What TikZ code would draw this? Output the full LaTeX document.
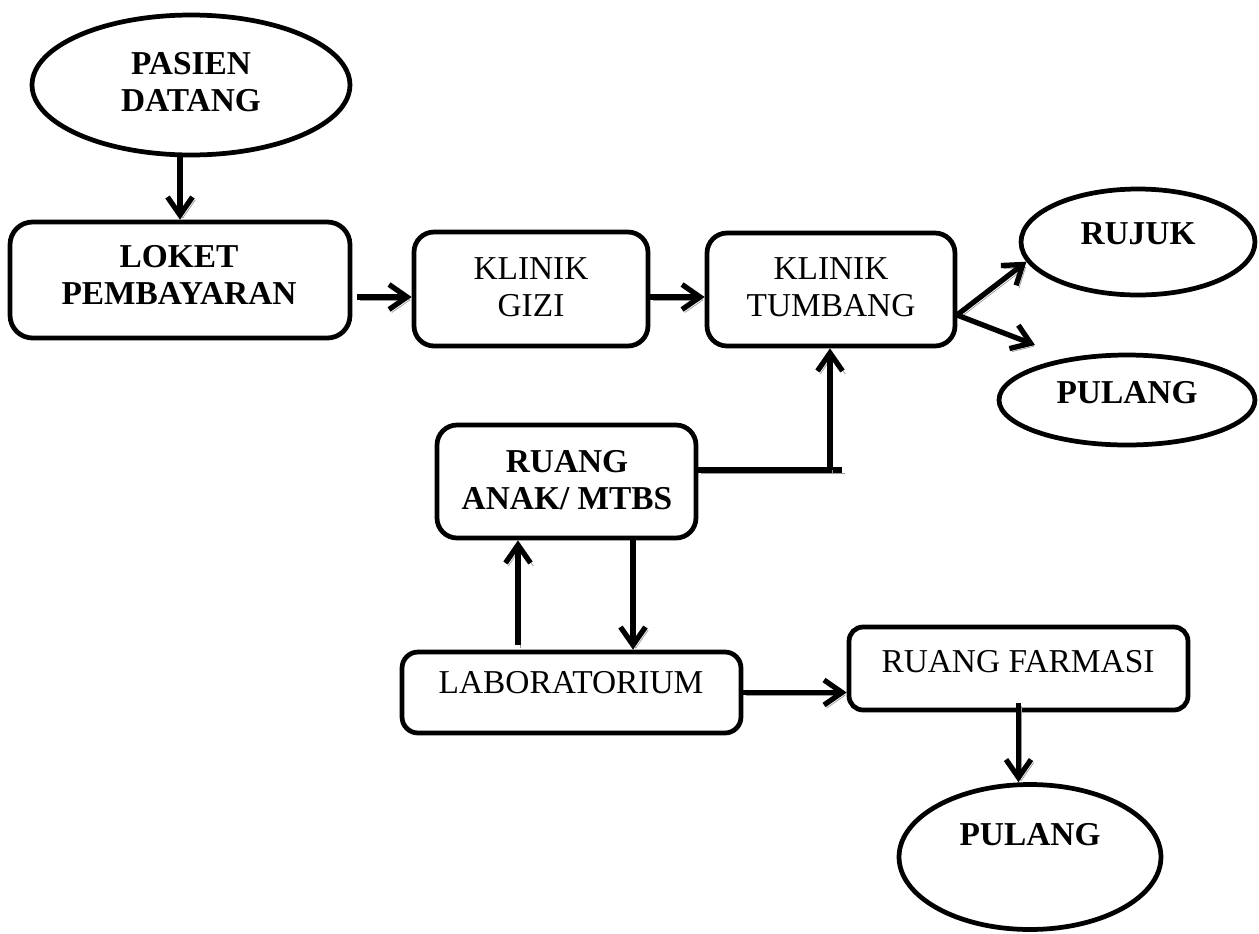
\documentclass[tikz,border=0pt]{standalone}
\usepackage{fontspec}
\setmainfont{Liberation Serif}
\usetikzlibrary{arrows.meta,shapes.geometric}
\begin{document}
\begin{tikzpicture}[x=0.02cm,y=-0.02cm,
  box/.style={draw,line width=2.7pt,rounded corners=0.4cm,inner sep=0pt},
  oval/.style={draw,ellipse,line width=2.7pt,inner sep=0pt},
  txt/.style={font=\fontsize{19}{21}\selectfont,align=center,inner sep=0pt},
  txtb/.style={font=\fontsize{19}{21}\selectfont\bfseries,align=center,inner sep=0pt},
  shade/.style={preaction={draw=black!40,transform canvas={shift={(0.055cm,-0.06cm)}}}},
  link/.style={line width=3pt,shade},
  arr/.style={link,-{Straight Barb[length=0.36cm,width=0.5cm]}},
]
\useasboundingbox (0,0) rectangle (1259,934);

% shapes
\node[oval,minimum width=6.36cm,minimum height=2.80cm] (pasien) at (191,85) {};
\node[box,minimum width=6.80cm,minimum height=2.32cm,rounded corners=0.45cm] (loket) at (180,280) {};
\node[box,minimum width=4.68cm,minimum height=2.28cm] (gizi) at (531,289) {};
\node[box,minimum width=4.96cm,minimum height=2.26cm] (tumbang) at (831,289.5) {};
\node[oval,minimum width=4.68cm,minimum height=2.12cm] (rujuk) at (1138,242) {};
\node[oval,minimum width=5.12cm,minimum height=1.80cm] (pulangA) at (1127,400) {};
\node[box,minimum width=5.18cm,minimum height=2.26cm] (anak) at (566.5,481.5) {};
\node[box,minimum width=6.78cm,minimum height=1.62cm,rounded corners=0.32cm] (lab) at (571.5,692.5) {};
\node[box,minimum width=6.78cm,minimum height=1.66cm,rounded corners=0.28cm] (farmasi) at (1018.5,668.5) {};
\node[oval,minimum width=5.24cm,minimum height=2.90cm] (pulangB) at (1030,857) {};

% labels
\node[txtb] (tpasien) at (191,82) {PASIEN\\DATANG};
\node[txtb] (tloket) at (179,275) {LOKET\\PEMBAYARAN};
\node[txt] (tgizi) at (531,287) {KLINIK\\GIZI};
\node[txt] (ttumbang) at (831,287) {KLINIK\\TUMBANG};
\node[txtb] (trujuk) at (1138,234) {RUJUK};
\node[txtb] (tpulangA) at (1127,393) {PULANG};
\node[txtb] (tanak) at (567,480) {RUANG\\ANAK/ MTBS};
\node[txt] (tlab) at (571,683) {LABORATORIUM};
\node[txt] (tfarmasi) at (1018,662) {RUANG FARMASI};
\node[txtb] (tpulangB) at (1030,835) {PULANG};

% helper points
\coordinate (row) at (0,297);
\coordinate (split) at (957,315);
\coordinate (tipA) at (1035,345);
\coordinate (join) at (830,470);
\coordinate (up) at (518,0);
\coordinate (down) at (633,0);

% connectors
\draw[arr] (pasien.south -| loket.north) -- (loket.north);
\draw[arr,shorten <=0.1cm] (loket.east |- row) -- (gizi.west |- row);
\draw[arr] (gizi.east |- row) -- (tumbang.west |- row);
\draw[arr] (split) -- (rujuk.190);
\draw[arr] (split) -- (tipA);
\draw[link] (anak.east |- join) -- ([xshift=0.24cm]join);
\draw[arr] (join) -- (tumbang.south -| join);
\draw[arr,shorten <=0.1cm] (lab.north -| up) -- (anak.south -| up);
\draw[arr] (anak.south -| down) -- (lab.north -| down);
\draw[arr] (lab.east) -- (farmasi.west |- lab.east);
\draw[arr,shorten <=-0.18cm] (farmasi.south) -- (pulangB.north -| farmasi.south);
\end{tikzpicture}
\end{document}
